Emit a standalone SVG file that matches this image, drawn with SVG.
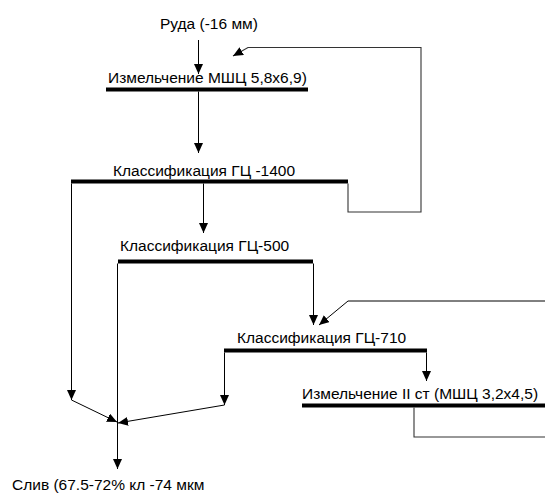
<svg xmlns="http://www.w3.org/2000/svg" width="545" height="493" viewBox="0 0 545 493">
<style>
text{font-family:"Liberation Sans",Arial,sans-serif;font-size:15.5px;fill:#000}
.bar{fill:#000}
.ln{fill:none;stroke:#000;stroke-width:1}
.rt{fill:none;stroke:#333;stroke-width:1.1}
.ar{marker-end:url(#ah)}
</style>
<defs>
<marker id="ah" markerUnits="userSpaceOnUse" markerWidth="11" markerHeight="10" refX="10" refY="4.5" orient="auto">
<path d="M0,0 L10,4.5 L0,9 z" fill="#000"/>
</marker>
</defs>
<rect width="545" height="493" fill="#fff"/>
<g id="ore"><text x="160" y="29">Руда (-16 мм)</text></g>
<g id="mill1"><text x="108" y="83">Измельчение МШЦ 5,8х6,9)</text><rect class="bar" x="106" y="87.5" width="202" height="4"/></g>
<g id="gc1400"><text x="113" y="176">Классификация ГЦ -1400</text><rect class="bar" x="71" y="179.5" width="277" height="4"/></g>
<g id="gc500"><text x="120" y="251">Классификация ГЦ-500</text><rect class="bar" x="118" y="259.5" width="195" height="4"/></g>
<g id="gc710"><text x="237" y="343">Классификация ГЦ-710</text><rect class="bar" x="224" y="348.5" width="203" height="4"/></g>
<g id="mill2"><text x="302" y="399">Измельчение II ст (МШЦ 3,2х4,5)</text><rect class="bar" x="302" y="403.5" width="243" height="4"/></g>
<g id="overflow"><text x="12" y="490">Слив (67.5-72% кл -74 мкм</text></g>
<g id="connectors">
<path class="ln ar" d="M198.5,40 V74"/>
<path class="ln ar" d="M198.5,91.5 V153"/>
<path class="ln ar" d="M203.5,183.5 V233"/>
<path class="rt ar" d="M348,183.5 V212 H421 V47.5 H248 L233,56"/>
<path class="ln ar" d="M71.5,183.5 V400"/>
<path class="ln ar" d="M71.5,400 L117,422"/>
<path class="ln ar" d="M117.5,263.5 V469"/>
<path class="ln ar" d="M313.5,263.5 V325"/>
<path class="ln ar" d="M545,301 H348 L319,325"/>
<path class="ln ar" d="M224.5,352.5 V405"/>
<path class="ln ar" d="M224.5,405 L118,423"/>
<path class="ln ar" d="M426.5,352.5 V381"/>
<path class="rt" d="M414,407.5 V437 H545"/>
</g>
</svg>
